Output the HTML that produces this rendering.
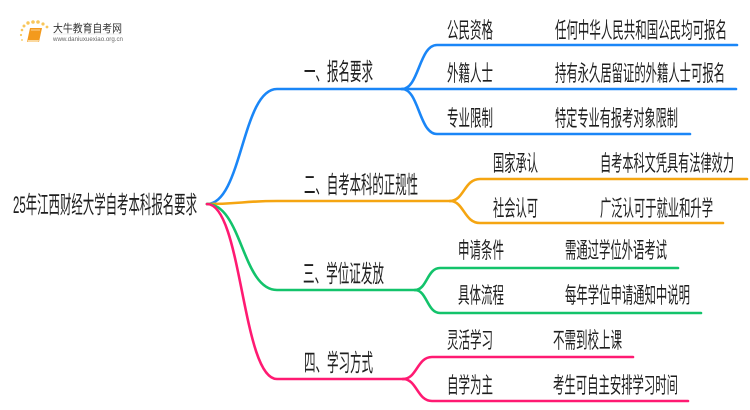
<!DOCTYPE html>
<html>
<head>
<meta charset="utf-8">
<style>
  html,body{margin:0;padding:0;background:#fff;}
  body{width:750px;height:410px;overflow:hidden;}
  svg{display:block;}
  text{font-family:"Liberation Sans","Noto Sans CJK SC",sans-serif;fill:#1e1e1e;}
</style>
</head>
<body>
<svg width="750" height="410" viewBox="0 0 750 410" xmlns="http://www.w3.org/2000/svg">
  <rect width="750" height="410" fill="#fff"/>

  <!-- logo -->
  <g>
    <circle cx="22" cy="30" r="1.3" fill="#f8c65a"/>
    <circle cx="24" cy="26" r="1.5" fill="#f8c65a"/>
    <circle cx="28" cy="23" r="1.7" fill="#f8c65a"/>
    <circle cx="33" cy="22" r="1.8" fill="#f8c65a"/>
    <circle cx="38" cy="22" r="1.8" fill="#f8c65a"/>
    <circle cx="43" cy="24" r="1.6" fill="#f8c65a"/>
    <circle cx="47" cy="27" r="1.4" fill="#f8c65a"/>
    <circle cx="21" cy="35" r="1.1" fill="#f8c65a"/>
    <circle cx="22" cy="40" r="1" fill="#f8d27a"/>
    <path d="M30,28 L42,28 L39,42 L27,42 Z" fill="#f39a1d"/>
    <path d="M28,40 L39,40 L38.5,42 L27.5,42 Z" fill="#fbd9a0"/>
    <path d="M31,30 L40,30" stroke="#fde3b8" stroke-width="0.8"/>
    <text x="53" y="32" font-size="11" textLength="69" lengthAdjust="spacingAndGlyphs" style="fill:#333">大牛教育自考网</text>
    <text x="53" y="41" font-size="6" textLength="70" lengthAdjust="spacingAndGlyphs" style="fill:#666">www.daniuxuexiao.org.cn</text>
    <line x1="53" y1="34" x2="122" y2="34" stroke="#ddd" stroke-width="0.5"/>
  </g>

  <g fill="none" stroke-width="2.6" stroke-linecap="round">
    <!-- blue -->
    <path d="M207,204 C242,204 242,89 277,89 L402,89" stroke="#1a86f7"/>
    <path d="M402,89 C419,89 419,45 437,45 L737,45" stroke="#1a86f7"/>
    <path d="M402,89 L736,89" stroke="#1a86f7"/>
    <path d="M402,89 C419,89 419,134 437,134 L690,134" stroke="#1a86f7"/>
    <!-- orange -->
    <path d="M207,204 C242,204 242,201 277,201 L450,201" stroke="#f5a511"/>
    <path d="M450,201 C464,201 464,179 480,179 L747,179" stroke="#f5a511"/>
    <path d="M450,201 C464,201 464,223 480,223 L723,223" stroke="#f5a511"/>
    <!-- green -->
    <path d="M207,204 C242,204 242,290 277,290 L415,290" stroke="#13c36b"/>
    <path d="M415,290 C427,290 427,268 440,268 L678,268" stroke="#13c36b"/>
    <path d="M415,290 C427,290 427,313 440,313 L701,313" stroke="#13c36b"/>
    <!-- pink -->
    <path d="M207,204 C242,204 242,379 277,379 L403,379" stroke="#ff1a72"/>
    <path d="M403,379 C417,379 417,357 432,357 L633,357" stroke="#ff1a72"/>
    <path d="M403,379 C417,379 417,401 432,401 L688,401" stroke="#ff1a72"/>
  </g>

  <!-- root -->
  <text x="13" y="213" font-size="24" textLength="184" lengthAdjust="spacingAndGlyphs">25年江西财经大学自考本科报名要求</text>

  <!-- branches -->
  <text x="304" y="80" font-size="24" textLength="69" lengthAdjust="spacingAndGlyphs">一、报名要求</text>
  <text x="304" y="193" font-size="24" textLength="114" lengthAdjust="spacingAndGlyphs">二、自考本科的正规性</text>
  <text x="303" y="282" font-size="24" textLength="81" lengthAdjust="spacingAndGlyphs">三、学位证发放</text>
  <text x="304" y="371" font-size="24" textLength="69" lengthAdjust="spacingAndGlyphs">四、学习方式</text>

  <!-- sub labels -->
  <text x="447" y="38" font-size="22" textLength="46" lengthAdjust="spacingAndGlyphs">公民资格</text>
  <text x="447" y="81" font-size="22" textLength="46" lengthAdjust="spacingAndGlyphs">外籍人士</text>
  <text x="447" y="126" font-size="22" textLength="46" lengthAdjust="spacingAndGlyphs">专业限制</text>
  <text x="493" y="171" font-size="22" textLength="45" lengthAdjust="spacingAndGlyphs">国家承认</text>
  <text x="493" y="216" font-size="22" textLength="45" lengthAdjust="spacingAndGlyphs">社会认可</text>
  <text x="458" y="258" font-size="22" textLength="46" lengthAdjust="spacingAndGlyphs">申请条件</text>
  <text x="458" y="303" font-size="22" textLength="46" lengthAdjust="spacingAndGlyphs">具体流程</text>
  <text x="447" y="348" font-size="22" textLength="46" lengthAdjust="spacingAndGlyphs">灵活学习</text>
  <text x="447" y="393" font-size="22" textLength="46" lengthAdjust="spacingAndGlyphs">自学为主</text>

  <!-- leaves -->
  <text x="555" y="38" font-size="22" textLength="172" lengthAdjust="spacingAndGlyphs">任何中华人民共和国公民均可报名</text>
  <text x="555" y="81" font-size="22" textLength="170" lengthAdjust="spacingAndGlyphs">持有永久居留证的外籍人士可报名</text>
  <text x="555" y="126" font-size="22" textLength="123" lengthAdjust="spacingAndGlyphs">特定专业有报考对象限制</text>
  <text x="600" y="171" font-size="22" textLength="134" lengthAdjust="spacingAndGlyphs">自考本科文凭具有法律效力</text>
  <text x="600" y="216" font-size="22" textLength="113" lengthAdjust="spacingAndGlyphs">广泛认可于就业和升学</text>
  <text x="565" y="258" font-size="22" textLength="102" lengthAdjust="spacingAndGlyphs">需通过学位外语考试</text>
  <text x="565" y="303" font-size="22" textLength="125" lengthAdjust="spacingAndGlyphs">每年学位申请通知中说明</text>
  <text x="553" y="348" font-size="22" textLength="69" lengthAdjust="spacingAndGlyphs">不需到校上课</text>
  <text x="553" y="393" font-size="22" textLength="125" lengthAdjust="spacingAndGlyphs">考生可自主安排学习时间</text>
</svg>
</body>
</html>
